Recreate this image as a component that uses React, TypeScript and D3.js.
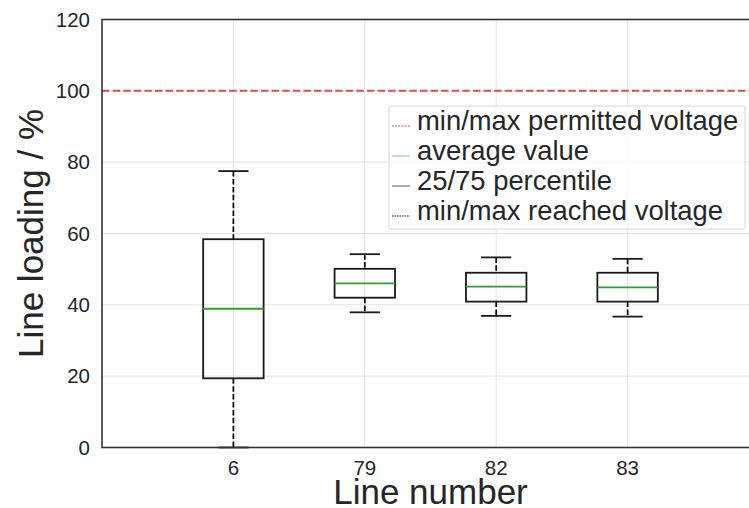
import React from "react";
import * as d3 from "d3";

// Line loading statistics per line
const categories = ["6", "79", "82", "83"];
const whiskerLow = [0, 37.9, 36.9, 36.7];
const quartile1 = [19.4, 42.0, 40.9, 40.9];
const medians = [38.9, 46.0, 45.1, 44.9];
const quartile3 = [58.4, 50.1, 49.0, 49.0];
const whiskerHigh = [77.5, 54.2, 53.3, 52.9];
const permittedLimit = 100;
const yTicks = [0, 20, 40, 60, 80, 100, 120];
const legendLabels = [
  "min/max permitted voltage",
  "average value",
  "25/75 percentile",
  "min/max reached voltage",
];

const W = 749;
const H = 508;
const FONT = "'Liberation Sans', Arial, Helvetica, sans-serif";
const TEXT = "#262626";

export default function App() {
  const x = d3.scaleLinear().domain([0, 5]).range([102, 759]);
  const y = d3.scaleLinear().domain([0, 120]).range([447.5, 19.5]);
  const unit = x(1) - x(0);
  const boxHalf = 0.23 * unit;
  const capHalf = 0.115 * unit;

  const left = x(0);
  const right = x(5);
  const top = y(120);
  const bottom = y(0);

  const legendX = 389;
  const legendY = 106;
  const legendW = 356;
  const legendH = 123;
  const rowBase = [130, 160, 190, 220];
  const handles = [
    { stroke: "#e24a4a", dash: "2,1.2", width: 1 },
    { stroke: "#6fcf6f", dash: null, width: 1 },
    { stroke: "#777777", dash: null, width: 1.2 },
    { stroke: "#111111", dash: "1.5,1", width: 1 },
  ];

  return (
    <div style={{ position: "absolute", left: 0, top: 0 }}>
      <svg width={W} height={H} style={{ display: "block", background: "#fff" }}>
        <rect x={0} y={0} width={W} height={H} fill="#fff" />
        {/* grid */}
        <g stroke="#e2e2e2" strokeWidth={1}>
          {yTicks.map((t) => (
            <line key={"gy" + t} x1={left} x2={right} y1={y(t)} y2={y(t)} />
          ))}
          {categories.map((c, i) => (
            <line key={"gx" + c} x1={x(i + 1)} x2={x(i + 1)} y1={top} y2={bottom} />
          ))}
        </g>

        {/* permitted limit */}
        <line
          x1={left}
          x2={right}
          y1={y(permittedLimit)}
          y2={y(permittedLimit)}
          stroke="#e24a4a"
          strokeWidth={2}
          strokeDasharray="7.4,3.2"
        />

        {/* boxes */}
        {categories.map((c, i) => {
          const cx = x(i + 1);
          return (
            <g key={"box" + c}>
              <line
                x1={cx}
                x2={cx}
                y1={y(whiskerHigh[i])}
                y2={y(quartile3[i])}
                stroke="#000"
                strokeWidth={1.7}
                strokeDasharray="5.5,2.4"
              />
              <line
                x1={cx}
                x2={cx}
                y1={y(quartile1[i])}
                y2={y(whiskerLow[i])}
                stroke="#000"
                strokeWidth={1.7}
                strokeDasharray="5.5,2.4"
              />
              <line x1={cx - capHalf} x2={cx + capHalf} y1={y(whiskerHigh[i])} y2={y(whiskerHigh[i])} stroke="#1a1a1a" strokeWidth={1.8} />
              <line x1={cx - capHalf} x2={cx + capHalf} y1={y(whiskerLow[i])} y2={y(whiskerLow[i])} stroke="#1a1a1a" strokeWidth={1.8} />
              <rect
                x={cx - boxHalf}
                y={y(quartile3[i])}
                width={boxHalf * 2}
                height={y(quartile1[i]) - y(quartile3[i])}
                fill="none"
                stroke="#1a1a1a"
                strokeWidth={1.8}
              />
              <line x1={cx - boxHalf} x2={cx + boxHalf} y1={y(medians[i])} y2={y(medians[i])} stroke="#2ca02c" strokeWidth={1.8} />
            </g>
          );
        })}

        {/* spines */}
        <rect x={left} y={top} width={right - left} height={bottom - top} fill="none" stroke="#333" strokeWidth={1.6} />

        {/* tick labels */}
        <g fontFamily={FONT} fontSize={20.5} fill={TEXT}>
          {yTicks.map((t) => (
            <text key={"ty" + t} x={90} y={y(t)} dy="0.35em" textAnchor="end">
              {t}
            </text>
          ))}
          {categories.map((c, i) => (
            <text key={"tx" + c} x={x(i + 1)} y={475} textAnchor="middle">
              {c}
            </text>
          ))}
        </g>

        {/* axis titles */}
        <text x={(left + right) / 2} y={504} textAnchor="middle" fontFamily={FONT} fontSize={35} fill={TEXT}>
          Line number
        </text>
        <text
          transform={`translate(43,${(top + bottom) / 2}) rotate(-90)`}
          textAnchor="middle"
          fontFamily={FONT}
          fontSize={35}
          fill={TEXT}
        >
          Line loading / %
        </text>

        {/* legend */}
        <rect
          x={legendX}
          y={legendY}
          width={legendW}
          height={legendH}
          rx={2}
          fill="#fff"
          fillOpacity={0.8}
          stroke="#d6d6d6"
          strokeWidth={1}
        />
        {legendLabels.map((lab, i) => (
          <g key={"lg" + i}>
            <line
              x1={392}
              x2={410}
              y1={rowBase[i] - 4}
              y2={rowBase[i] - 4}
              stroke={handles[i].stroke}
              strokeWidth={handles[i].width}
              strokeDasharray={handles[i].dash ?? undefined}
            />
            <text x={417} y={rowBase[i]} fontFamily={FONT} fontSize={27.4} fill={TEXT}>
              {lab}
            </text>
          </g>
        ))}
      </svg>
    </div>
  );
}
